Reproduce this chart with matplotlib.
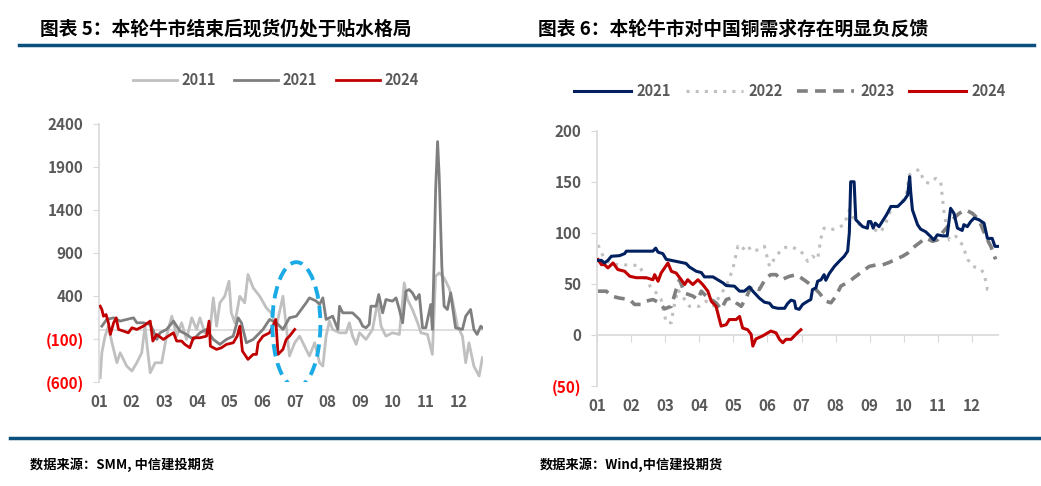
import matplotlib
matplotlib.use('Agg')
import matplotlib.pyplot as plt
from matplotlib.patches import Ellipse
from matplotlib.lines import Line2D

plt.rcParams['font.family'] = ['Noto Sans CJK SC', 'DejaVu Sans']

# ---- 左图：现货升贴水 (月份位置, 数值)
months = ['01', '02', '03', '04', '05', '06', '07', '08', '09', '10', '11', '12']

x_2011 = [0.04, 0.09, 0.19, 0.29, 0.40, 0.55, 0.65, 0.85, 1.01, 1.16,
          1.31, 1.41, 1.51, 1.57, 1.72, 1.92, 2.07, 2.23, 2.38, 2.53,
          2.68, 2.84, 2.99, 3.09, 3.24, 3.39, 3.50, 3.60, 3.70, 3.85,
          3.98, 4.05, 4.16, 4.31, 4.46, 4.56, 4.72, 4.92, 5.12, 5.27,
          5.43, 5.63, 5.73, 5.83, 5.99, 6.14, 6.29, 6.44, 6.60, 6.75,
          6.85, 6.95, 7.05, 7.15, 7.36, 7.56, 7.66, 7.76, 7.87, 7.97,
          8.17, 8.37, 8.53, 8.63, 8.78, 8.98, 9.19, 9.34, 9.44, 9.59,
          9.75, 9.85, 10.05, 10.20, 10.30, 10.41, 10.56, 10.71, 10.81, 10.97,
          11.12, 11.22, 11.32, 11.47, 11.63, 11.73]
v_2011 = [-550, -260, -67, 49, -144, -376, -260, -415, -472, -376,
          -260, 49, -298, -492, -376, -376, -67, 165, -67, 88,
          -105, 146, 11, 146, -28, -28, 378, 49, 320, 397,
          571, 204, 88, 397, 320, 649, 494, 397, 262, 204,
          49, 397, 49, -298, -144, -67, -183, -298, -144, -376,
          -415, -67, 108, 11, -28, -28, 88, -67, -163, -28,
          -105, 11, 340, 49, -67, -28, -47, 552, 359, 243,
          88, -28, -47, -279, 629, 668, 610, 494, 359, 49,
          -67, -376, -144, -415, -531, -318]

x_2021 = [0.09, 0.24, 0.45, 0.65, 0.85, 1.06, 1.16, 1.36, 1.57, 1.67,
          1.77, 1.87, 2.07, 2.28, 2.48, 2.68, 2.89, 3.09, 3.29, 3.50,
          3.70, 3.90, 4.11, 4.26, 4.36, 4.51, 4.72, 5.02, 5.22, 5.43,
          5.63, 5.83, 6.04, 6.19, 6.34, 6.44, 6.65, 6.75, 6.85, 6.95,
          7.15, 7.31, 7.36, 7.46, 7.56, 7.76, 7.97, 8.07, 8.17, 8.27,
          8.32, 8.48, 8.56, 8.68, 8.78, 8.98, 9.09, 9.19, 9.29, 9.39,
          9.49, 9.59, 9.70, 9.80, 9.90, 10.0, 10.15, 10.20, 10.25, 10.30,
          10.36, 10.41, 10.49, 10.56, 10.66, 10.76, 10.83, 10.91, 11.12, 11.22,
          11.37, 11.47, 11.57, 11.68, 11.73]
v_2021 = [49, 127, 146, 108, 127, 146, 88, 88, 69, -8,
          -105, -28, 11, 108, -8, -47, -105, -28, 11, -105,
          -163, -105, -67, 146, 88, -144, -105, 11, 127, 88,
          11, 146, 165, 243, 320, 378, 340, 301, 378, 127,
          165, 11, 281, 204, 204, 204, 127, 49, 30, 69,
          281, 281, 417, 204, 359, 340, 378, 243, 88, 455,
          475, 436, 359, 417, 30, 30, 301, 11, 745, 1634,
          2195, 1790, 745, 281, 243, 436, 243, 30, 11, 165,
          243, 11, -47, 49, 30]

x_2024 = [0.04, 0.09, 0.14, 0.22, 0.29, 0.35, 0.45, 0.53, 0.60, 0.75,
          0.90, 1.01, 1.16, 1.36, 1.57, 1.65, 1.77, 1.97, 2.12, 2.28,
          2.38, 2.53, 2.63, 2.78, 2.89, 3.09, 3.29, 3.37, 3.41, 3.60,
          3.75, 3.90, 4.11, 4.23, 4.31, 4.39, 4.56, 4.72, 4.82, 4.87,
          5.02, 5.22, 5.30, 5.41, 5.48, 5.63, 5.73, 5.83, 5.99]
v_2024 = [281, 243, 165, 184, 88, -47, 88, 146, 11, -8,
          -28, 30, 11, 49, 108, -124, -47, -105, -67, -28,
          -124, -124, -163, -202, -86, -86, -67, 108, -183, -221,
          -202, -163, -144, -67, 49, -240, -337, -279, -279, -144,
          -67, -28, 30, 127, -279, -221, -105, -67, 11]

left_ticks = [2400, 1900, 1400, 900, 400, -100, -600]

# ---- 右图：中国铜需求
r_x_2021 = [0.03, 0.13, 0.22, 0.32, 0.42, 0.66, 0.81, 0.86, 1.15, 1.44,
            1.64, 1.72, 1.79, 1.93, 2.03, 2.32, 2.61, 2.71, 2.91, 3.06,
            3.15, 3.40, 3.54, 3.69, 3.79, 4.03, 4.18, 4.32, 4.47, 4.57,
            4.76, 4.91, 5.06, 5.15, 5.30, 5.50, 5.59, 5.69, 5.79, 5.83,
            5.93, 6.03, 6.18, 6.27, 6.32, 6.42, 6.47, 6.57, 6.66, 6.71,
            6.81, 6.96, 7.10, 7.25, 7.35, 7.40, 7.44, 7.54, 7.59, 7.79,
            7.93, 7.96, 8.03, 8.10, 8.16, 8.27, 8.49, 8.62, 8.82, 9.01,
            9.11, 9.17, 9.20, 9.25, 9.40, 9.49, 9.64, 9.78, 9.88, 9.98,
            10.13, 10.27, 10.37, 10.47, 10.57, 10.71, 10.76, 10.86, 10.96, 11.06,
            11.20, 11.35, 11.45, 11.59, 11.67, 11.77]
r_v_2021 = [73, 73, 70.4, 73, 77, 77.6, 79.6, 82, 82, 82,
            82, 85, 81, 79.6, 74, 72, 70, 66.5, 62.3, 61,
            56.8, 56.8, 54, 51, 48.3, 47.7, 42.8, 42.8, 47, 42.8,
            36, 32, 31, 27.2, 26, 26, 30.7, 34, 33, 26,
            25, 29.8, 33, 34.6, 44.4, 46, 52.5, 54, 59, 53.5,
            60, 67, 72, 77, 82, 100, 150, 150, 112.8, 106,
            104.6, 111, 111, 104.6, 109.5, 106, 117.6, 125.8, 125.8, 132,
            137, 155, 140, 122.5, 108, 103.6, 101, 96.5, 93, 98,
            97, 97, 124, 119, 104.6, 102.3, 108, 106, 111, 114.4,
            112.8, 109.5, 94.5, 94.5, 86.7, 86.7]

r_x_2022 = [0.03, 0.18, 0.37, 0.66, 0.96, 1.25, 1.40, 1.59, 1.74, 1.88,
            2.03, 2.18, 2.24, 2.37, 2.57, 2.71, 3.00, 3.20, 3.44, 3.59,
            3.79, 3.98, 4.13, 4.23, 4.42, 4.52, 4.76, 4.91, 5.06, 5.25,
            5.45, 5.64, 5.79, 5.98, 6.18, 6.32, 6.47, 6.57, 6.66, 6.86,
            7.05, 7.25, 7.40, 7.49, 7.64, 7.84, 8.08, 8.28, 8.43, 8.62,
            8.87, 9.06, 9.16, 9.30, 9.45, 9.60, 9.74, 9.94, 10.08, 10.18,
            10.33, 10.53, 10.72, 10.87, 11.02, 11.21, 11.35, 11.45, 11.59]
r_v_2022 = [88, 77, 70, 68.5, 68.5, 67.8, 56, 46, 41, 34.6,
            11.9, 11.9, 25, 44.4, 34.6, 28, 28, 33, 28, 38,
            47.7, 64, 86.7, 83, 88, 82, 83.5, 86.7, 67, 77,
            85, 86.7, 85, 82, 72, 77, 74, 95, 104.6, 103,
            104.6, 108, 122.5, 116, 109.5, 104.6, 104.6, 100, 106, 122.5,
            127.4, 135.5, 156.7, 160, 162, 150, 148.5, 153.4, 150, 119,
            93, 96.5, 88, 74, 67, 65.5, 60.6, 44.4, 44.4]

r_x_2023 = [0.03, 0.27, 0.42, 0.66, 0.96, 1.10, 1.30, 1.44, 1.64, 1.83,
            1.98, 2.18, 2.32, 2.42, 2.57, 2.81, 2.96, 3.06, 3.20, 3.35,
            3.49, 3.64, 3.79, 3.93, 4.08, 4.23, 4.37, 4.52, 4.76, 4.96,
            5.10, 5.25, 5.40, 5.64, 5.84, 5.98, 6.13, 6.32, 6.52, 6.71,
            6.86, 7.01, 7.15, 7.40, 7.59, 7.79, 7.98, 8.18, 8.37, 8.57,
            8.76, 8.96, 9.11, 9.25, 9.45, 9.64, 9.84, 9.98, 10.13, 10.28,
            10.42, 10.62, 10.81, 11.01, 11.20, 11.40, 11.55, 11.69]
r_v_2023 = [42.8, 42.8, 38, 36, 34.6, 29.8, 29.8, 33, 34.6, 31.4,
            25.5, 28, 44.4, 54, 41, 38, 34.6, 42.8, 38, 34.6,
            31.4, 25, 34.6, 36, 31.4, 28, 36, 47.7, 44.4, 56,
            59, 59, 54, 57.3, 59, 56, 52.5, 47.7, 41, 33,
            31.4, 38, 47.7, 52.5, 57.3, 62.3, 67, 68.5, 68.5, 71,
            74, 77, 80, 85, 90, 95, 91.7, 93, 100, 106,
            112.8, 119, 122.5, 119, 112.8, 96.5, 86.7, 74]

r_x_2024 = [0.03, 0.13, 0.22, 0.32, 0.47, 0.61, 0.81, 0.96, 1.15, 1.44,
            1.64, 1.69, 1.79, 1.88, 2.08, 2.18, 2.32, 2.47, 2.57, 2.66,
            2.81, 2.96, 3.10, 3.25, 3.35, 3.49, 3.64, 3.79, 3.88, 4.08,
            4.18, 4.27, 4.42, 4.52, 4.57, 4.66, 4.86, 5.01, 5.10, 5.25,
            5.35, 5.45, 5.54, 5.69, 5.79, 5.88, 5.98]
r_v_2024 = [73.7, 68.8, 68.8, 65.6, 70.4, 64, 62.3, 57.4, 56, 56,
            54, 59, 52.5, 60.6, 70.4, 62.3, 60.6, 54, 49.3, 54,
            49.3, 54, 49.3, 42.8, 33, 28, 8.6, 10, 15, 15,
            18, 6.7, 5, 0.5, -11, -4, -1, 2, 3.7, 2,
            -4.4, -7.7, -4.4, -4.4, -1, 2, 5]

right_ticks = [200, 150, 100, 50, 0, -50]

TXT = '#595959'
AXC = '#D9D9D9'
NEG = '#FF0000'
BLUE = '#0B4F7C'


def fmt(v):
    return '(%d)' % abs(v) if v < 0 else '%d' % v


def style_axes(ax, ticks, xmax):
    for s in ['top', 'right', 'bottom']:
        ax.spines[s].set_visible(False)
    ax.spines['left'].set_color(AXC)
    ax.spines['left'].set_linewidth(1.2)
    ax.set_ylim(ticks[-1], ticks[0])
    ax.set_xlim(0, xmax)
    ax.set_yticks(ticks, [fmt(t) for t in ticks])
    ax.tick_params(axis='y', length=4, color=AXC, labelsize=11, pad=7)
    for lab, t in zip(ax.get_yticklabels(), ticks):
        lab.set_fontweight('bold')
        lab.set_color(NEG if t < 0 else TXT)
    ax.set_xticks(range(len(months)), months)
    ax.tick_params(axis='x', length=0, labelsize=11, pad=9)
    for lab in ax.get_xticklabels():
        lab.set_fontweight('bold')
        lab.set_color(TXT)
    ax.axhline(0, color=AXC, lw=1.2, zorder=1)


fig = plt.figure(figsize=(10.41, 4.86), dpi=100)

# 左图
ax1 = fig.add_axes([0.095, 0.214, 0.369, 0.531])
ax1.plot(x_2011, v_2011, color='#C0C0C0', lw=2, label='2011', zorder=2)
ax1.plot(x_2021, v_2021, color='#7F7F7F', lw=2, label='2021', zorder=3)
ax1.plot(x_2024, v_2024, color='#C00000', lw=2, label='2024', zorder=4)
style_axes(ax1, left_ticks, 11.75)
ax1.add_patch(Ellipse((6.04, 68), 1.47, 1450, fill=False, edgecolor='#1AABE6',
                      lw=2.8, ls=(0, (3.2, 1.8)), zorder=5))
leg1 = ax1.legend(loc='center', bbox_to_anchor=(0.46, 1.17), ncol=3, frameon=False,
                  handlelength=3.0, columnspacing=1.3, handletextpad=0.3,
                  prop={'weight': 'bold', 'size': 10.5})
for t in leg1.get_texts():
    t.set_color(TXT)

# 右图
ax2 = fig.add_axes([0.5735, 0.206, 0.3865, 0.525])
ax2.plot(r_x_2021, r_v_2021, color='#002060', lw=2.2, label='2021', zorder=5)
ax2.plot(r_x_2022, r_v_2022, color='#BFBFBF', lw=2.2, ls=(0, (1, 2)), label='2022', zorder=2)
ax2.plot(r_x_2023, r_v_2023, color='#808080', lw=2.6, ls=(0, (3, 2)), label='2023', zorder=3)
ax2.plot(r_x_2024, r_v_2024, color='#C00000', lw=2.2, label='2024', zorder=4)
style_axes(ax2, right_ticks, 11.8)
sec = ax2.secondary_xaxis(0.2)
sec.set_xticks(range(len(months)))
sec.tick_params(axis='x', direction='out', length=5, color=AXC, labelbottom=False)
sec.spines['bottom'].set_visible(False)
leg2 = ax2.legend(loc='center', bbox_to_anchor=(0.48, 1.155), ncol=4, frameon=False,
                  handlelength=3.9, columnspacing=1.0, handletextpad=0.4,
                  prop={'weight': 'bold', 'size': 10.5})
for t in leg2.get_texts():
    t.set_color(TXT)

# 标题与页脚
fig.text(40 / 1041, 1 - 29 / 486, '图表 5：本轮牛市结束后现货仍处于贴水格局',
         fontsize=13.5, fontweight='bold', va='center', color='black')
fig.text(538 / 1041, 1 - 29 / 486, '图表 6：本轮牛市对中国铜需求存在明显负反馈',
         fontsize=13.5, fontweight='bold', va='center', color='black')
fig.add_artist(Line2D([19 / 1041, 1034 / 1041], [1 - 45 / 486] * 2,
                      transform=fig.transFigure, color=BLUE, lw=2.5))
fig.add_artist(Line2D([10 / 1041, 1041 / 1041], [1 - 438 / 486] * 2,
                      transform=fig.transFigure, color=BLUE, lw=2.5))
fig.text(30 / 1041, 1 - 465 / 486, '数据来源：SMM, 中信建投期货',
         fontsize=9.5, fontweight='bold', style='italic', va='center')
fig.text(540 / 1041, 1 - 465 / 486, '数据来源：Wind,中信建投期货',
         fontsize=9.5, fontweight='bold', style='italic', va='center')

fig.savefig('out.png', dpi=100)
